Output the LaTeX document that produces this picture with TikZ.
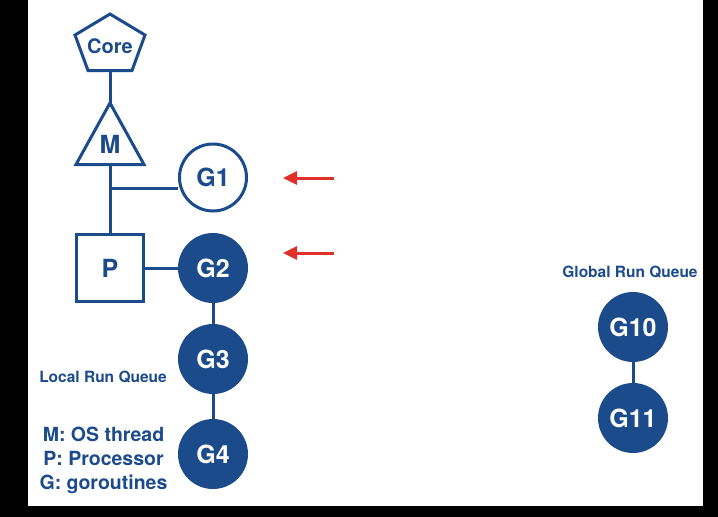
\documentclass[tikz,border=0pt]{standalone}
\usepackage{fontspec}
\setmainfont{TeX Gyre Heros}
\usetikzlibrary{arrows.meta,positioning}
\definecolor{goblue}{HTML}{1C4B8C}
\definecolor{arrowred}{HTML}{E0302A}

\tikzset{
  link/.style={draw=goblue,line width=3pt},
  gfull/.style={circle,fill=goblue,text=white,minimum size=70pt,inner sep=0pt,font=\fontsize{25}{25}\bfseries\selectfont},
  gring/.style={circle,draw=goblue,line width=3pt,fill=white,text=goblue,minimum size=67pt,inner sep=0pt,font=\fontsize{25}{25}\bfseries\selectfont},
  pbox/.style={rectangle,draw=goblue,line width=3pt,text=goblue,minimum size=67pt,inner sep=0pt,font=\fontsize{25}{25}\bfseries\selectfont},
  note/.style={text=goblue,inner sep=0pt,font=\fontsize{15.5}{15.5}\bfseries\selectfont},
  redarrow/.style={-{Triangle[length=14pt,width=13pt]},draw=arrowred,line width=3pt}
}

\begin{document}
\begin{tikzpicture}[x=1pt,y=-1pt]

% frame of the screenshot
\fill[black] (0,0) rectangle (718,517);
\fill[white] (28,0) rectangle (703,505.5);

% core and thread
\draw[link,line join=miter] (110,14) -- (145,35) -- (132,70.5) -- (88,70.5) -- (75,35) -- cycle;
\node[text=goblue,font=\fontsize{20}{20}\bfseries\selectfont] (core) at (110,46) {Core};
\coordinate (coreb) at (110,70.5);
\draw[link,line join=miter] (110,103) -- (144,164.5) -- (76,164.5) -- cycle;
\node[text=goblue,font=\fontsize{25}{25}\bfseries\selectfont] (m) at (110,144) {M};
\coordinate (mtop) at (110,103);
\coordinate (mbase) at (110,164.5);
\coordinate (branch) at (110,188);

% processor and local run queue
\node[pbox] (p) at (110,268) {P};
\node[gring] (g1) at (213,177.5) {G1};
\node[gfull] (g2) at (213,268) {G2};
\node[gfull] (g3) at (213,359) {G3};
\node[gfull] (g4) at (213,454) {G4};

\draw[link] (coreb) -- (mtop);
\draw[link] (mbase) -- (p.north);
\draw[link] (branch) -- (branch -| g1.west);
\draw[link] (p) -- (g2);
\draw[link] (g2) -- (g3);
\draw[link] (g3) -- (g4);

\node[note] (lrq) at (103,377) {Local Run Queue};
\node[text=goblue,inner sep=0pt,align=center,font=\fontsize{19.5}{24}\bfseries\selectfont] (legend) at (103.5,460) {M: OS thread\\P: Processor\\G: goroutines};

% global run queue
\node[note] (grq) at (630,272) {Global Run Queue};
\node[gfull] (g10) at (633,327) {G10};
\node[gfull] (g11) at (633,418) {G11};
\draw[link] (g10) -- (g11);

% red arrows
\coordinate (a1s) at (334,178);
\coordinate (a1e) at (283,178);
\coordinate (a2s) at (334,253);
\coordinate (a2e) at (283,253);
\draw[redarrow] (a1s) -- (a1e);
\draw[redarrow] (a2s) -- (a2e);

\end{tikzpicture}
\end{document}
